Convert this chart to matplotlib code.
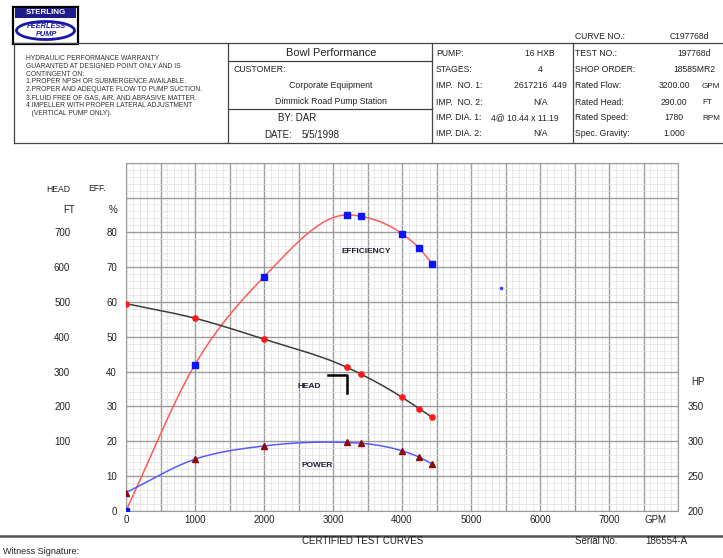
import numpy as np
import matplotlib
matplotlib.use("Agg")
from matplotlib import pyplot as plt
from matplotlib.lines import Line2D
from matplotlib.patches import Rectangle, Ellipse
from matplotlib.ticker import MultipleLocator, FuncFormatter

plt.rcParams['font.family'] = ['Liberation Sans', 'DejaVu Sans']

# test points
flow = [0, 1000, 2000, 3200, 3400, 4000, 4250, 4440]
efficiency = [0, 42.0, 67.2, 85.0, 84.6, 79.6, 75.4, 70.9]
head = [495, 453, 393, 312, 293, 226, 193, 168]
power = [226, 274, 293, 298, 297, 286, 277, 267]

rated_flow = 3200
rated_head = 290
stray_flow = [5430]
stray_eff = [64]

x_ticks = [0, 1000, 2000, 3000, 4000, 5000, 6000, 7000]
eff_ticks = [0, 10, 20, 30, 40, 50, 60, 70, 80]
head_ticks = [100, 200, 300, 400, 500, 600, 700]
hp_ticks = [200, 250, 300, 350]

warranty = ["HYDRAULIC PERFORMANCE WARRANTY",
            "GUARANTED AT DESIGNED POINT ONLY AND IS",
            "CONTINGENT ON:",
            "1.PROPER NPSH OR SUBMERGENCE AVAILABLE.",
            "2.PROPER AND ADEQUATE FLOW TO PUMP SUCTION.",
            "3.FLUID FREE OF GAS, AIR, AND ABRASIVE MATTER.",
            "4.IMPELLER WITH PROPER LATERAL ADJUSTMENT",
            "   (VERTICAL PUMP ONLY)."]
pump_labels = ["PUMP:", "STAGES:", "IMP.  NO. 1:", "IMP.  NO. 2:", "IMP. DIA. 1:", "IMP. DIA. 2:"]
pump_values = ["16 HXB", "4", "2617216  449", "N/A", "4@ 10.44 x 11.19", "N/A"]
test_labels = ["TEST NO.:", "SHOP ORDER:", "Rated Flow:", "Rated Head:", "Rated Speed:", "Spec. Gravity:"]
test_values = ["197768d", "18585MR2", "3200.00", "290.00", "1780", "1.000"]
test_units = ["", "", "GPM", "FT", "RPM", ""]


def head_to_eff(h):
    return np.asarray(h, float) / 10 + 10

def eff_to_head(e):
    return (np.asarray(e, float) - 10) * 10

def hp_to_eff(p):
    return (np.asarray(p, float) - 200) / 5

def eff_to_hp(e):
    return np.asarray(e, float) * 5 + 200


def smooth(x, y, n=300):
    # cubic hermite curve through the test points
    x = np.asarray(x, float)
    y = np.asarray(y, float)
    h = np.diff(x)
    d = np.diff(y) / h
    m = np.empty_like(y)
    m[0] = d[0]
    m[-1] = d[-1]
    m[1:-1] = (d[:-1] * h[1:] + d[1:] * h[:-1]) / (h[:-1] + h[1:])
    xs = np.linspace(x[0], x[-1], n)
    i = np.clip(np.searchsorted(x, xs) - 1, 0, len(h) - 1)
    t = (xs - x[i]) / h[i]
    ys = ((2 * t**3 - 3 * t**2 + 1) * y[i] + (t**3 - 2 * t**2 + t) * h[i] * m[i]
          + (-2 * t**3 + 3 * t**2) * y[i + 1] + (t**3 - t**2) * h[i] * m[i + 1])
    return xs, ys


W, H = 723, 558
fig = plt.figure(figsize=(7.23, 5.58), dpi=100)
fig.patch.set_facecolor('white')

def fx(px):
    return px / W

def fy(py):
    return 1 - py / H

def hline(y, x0, x1, color='#444444', lw=0.9):
    fig.add_artist(Line2D([fx(x0), fx(x1)], [fy(y), fy(y)], transform=fig.transFigure, color=color, lw=lw))

def vline(x, y0, y1, color='#444444', lw=0.9):
    fig.add_artist(Line2D([fx(x), fx(x)], [fy(y0), fy(y1)], transform=fig.transFigure, color=color, lw=lw))

def ftext(x, y, s, size=6.3, ha='left', **kw):
    fig.text(fx(x), fy(y), s, fontsize=size, ha=ha, va='center', color=kw.pop('color', '#222222'), **kw)

# ---- logo
fig.add_artist(Rectangle((fx(13), fy(44)), 65 / W, 37 / H, transform=fig.transFigure,
                         fill=False, ec='black', lw=1.6))
fig.add_artist(Rectangle((fx(15), fy(17.5)), 61 / W, 9.5 / H, transform=fig.transFigure,
                         fc='#1c1c8c', ec='none'))
ftext(45.5, 12.9, "STERLING", size=5.8, ha='center', color='white', fontweight='bold')
fig.add_artist(Ellipse((fx(45.5), fy(30.5)), 58 / W, 18 / H, transform=fig.transFigure,
                       fill=False, ec='#1a1aa8', lw=2.0))
ftext(46, 27, "PEERLESS", size=5.3, ha='center', color='#1a1aa8', fontweight='bold', style='italic')
ftext(46, 34, "PUMP", size=5.3, ha='center', color='#1a1aa8', fontweight='bold', style='italic')

# ---- header boxes
hline(43, 14, 723)
hline(143, 14, 723)
for xv in [14, 228, 432, 573]:
    vline(xv, 43, 143)
hline(61, 228, 432)
hline(109, 228, 432)

for i, s in enumerate(warranty):
    ftext(26, 58.3 + 7.9 * i, s, size=4.9, color='#333333')

ftext(331, 52.5, "Bowl Performance", size=7.9, ha='center')
ftext(234, 69.5, "CUSTOMER:", size=6.3)
ftext(331, 85.5, "Corporate Equipment", size=6.3, ha='center')
ftext(331, 101.5, "Dimmick Road Pump Station", size=6.3, ha='center')
ftext(278, 118, "BY: DAR", size=7)
ftext(264, 134.5, "DATE:", size=7)
ftext(302, 134.5, "5/5/1998", size=7)

rows = [53, 70, 86, 102, 118, 134]
for i, y in enumerate(rows):
    ftext(436, y, pump_labels[i], size=6.2)
    if i == 4:
        ftext(491, y, pump_values[i], size=6.2)
    else:
        ftext(540, y, pump_values[i], size=6.2, ha='center')
    ftext(575, y, test_labels[i], size=6.2)
    if i < 2:
        ftext(694, y, test_values[i], size=6.2, ha='center')
    elif i == 5:
        ftext(663, y, test_values[i], size=6.2)
    else:
        ftext(674, y, test_values[i], size=6.2, ha='center')
    if test_units[i]:
        ftext(702, y, test_units[i], size=5.9)

ftext(575, 36.5, "CURVE NO.:", size=6.2)
ftext(670, 36.5, "C197768d", size=6.2)

# ---- chart
ax = fig.add_axes([fx(126), fy(510.7), (678 - 126) / W, (510.7 - 162.7) / H])
ax.set_xlim(0, 8000)
ax.set_ylim(0, 100)
ax.xaxis.set_major_locator(MultipleLocator(500))
ax.xaxis.set_minor_locator(MultipleLocator(100))
ax.yaxis.set_major_locator(MultipleLocator(10))
ax.yaxis.set_minor_locator(MultipleLocator(2))
ax.xaxis.set_major_formatter(FuncFormatter(lambda v, p: str(int(v)) if int(v) in x_ticks else ""))
ax.yaxis.set_major_formatter(FuncFormatter(lambda v, p: str(int(v)) if int(v) in eff_ticks else ""))
ax.tick_params(which='both', length=0, labelsize=7, colors='#222222')
ax.tick_params(axis='x', pad=3)
ax.tick_params(axis='y', pad=6.5)
ax.grid(which='major', color='#9c9c9c', lw=1.0)
ax.grid(which='minor', color='#dedede', lw=0.5)
ax.set_axisbelow(True)
for sp in ax.spines.values():
    sp.set_color('#9c9c9c')

ax_head = ax.secondary_yaxis(-0.096, functions=(eff_to_head, head_to_eff))
ax_head.set_yticks(head_ticks)
ax_head.tick_params(length=0, labelsize=7, pad=2, colors='#222222')
ax_head.spines['left'].set_visible(False)

ax_hp = ax.secondary_yaxis('right', functions=(eff_to_hp, hp_to_eff))
ax_hp.set_yticks(hp_ticks)
ax_hp.tick_params(length=0, labelsize=7, pad=7, colors='#222222')
ax_hp.spines['right'].set_visible(False)

xs, ys = smooth(flow, efficiency)
ax.plot(xs, ys, color='#ff5a5a', lw=1.1, zorder=3)
ax.plot(flow, efficiency, 's', color='#0a14ff', ms=4.3, zorder=4)

xs, ys = smooth(flow, head)
ax.plot(xs, head_to_eff(ys), color='#3c3c3c', lw=1.1, zorder=3)
ax.plot(flow, head_to_eff(head), 'o', color='#ff1a1a', ms=3.8, zorder=4)

xs, ys = smooth(flow, power)
ax.plot(xs, hp_to_eff(ys), color='#5a5aff', lw=1.1, zorder=3)
ax.plot(flow, hp_to_eff(power), '^', color='#8b0a0a', ms=4.3, zorder=4)

ax.plot(stray_flow, stray_eff, 'o', color='#4040ff', ms=1.6, zorder=4)

# rated point bracket
re = float(head_to_eff(rated_head))
ax.plot([rated_flow - 270, rated_flow, rated_flow], [re, re, re - 5.2], color='black', lw=1.8, zorder=5)

lab = dict(ha='center', va='center', fontsize=6, fontweight='bold', color='#1f1f33')
ax.text(3478, 74.6, "EFFICIENCY", **lab)
ax.text(2659, 35.8, "HEAD", **lab)
ax.text(2768, 12.9, "POWER", **lab)
ax.text(7670, -2.6, "GPM", ha='center', va='center', fontsize=7, color='#222222', clip_on=False)

ftext(58, 190, "HEAD", size=6.2, ha='center')
ftext(97, 189, "EFF.", size=6.2, ha='center')
ftext(75, 210, "FT", size=7, ha='right')
ftext(117, 210, "%", size=7, ha='right')
ftext(691, 381.7, "HP", size=7)

# ---- footer
hline(536, 0, 723, color='#555555', lw=1.8)
ftext(363, 541.5, "CERTIFIED TEST CURVES", size=7, ha='center')
ftext(575, 541.5, "Serial No.", size=7)
ftext(645, 541.5, "186554-A", size=7)
ftext(3, 552, "Witness Signature:", size=6.5)

fig.savefig('out.png', dpi=100)
